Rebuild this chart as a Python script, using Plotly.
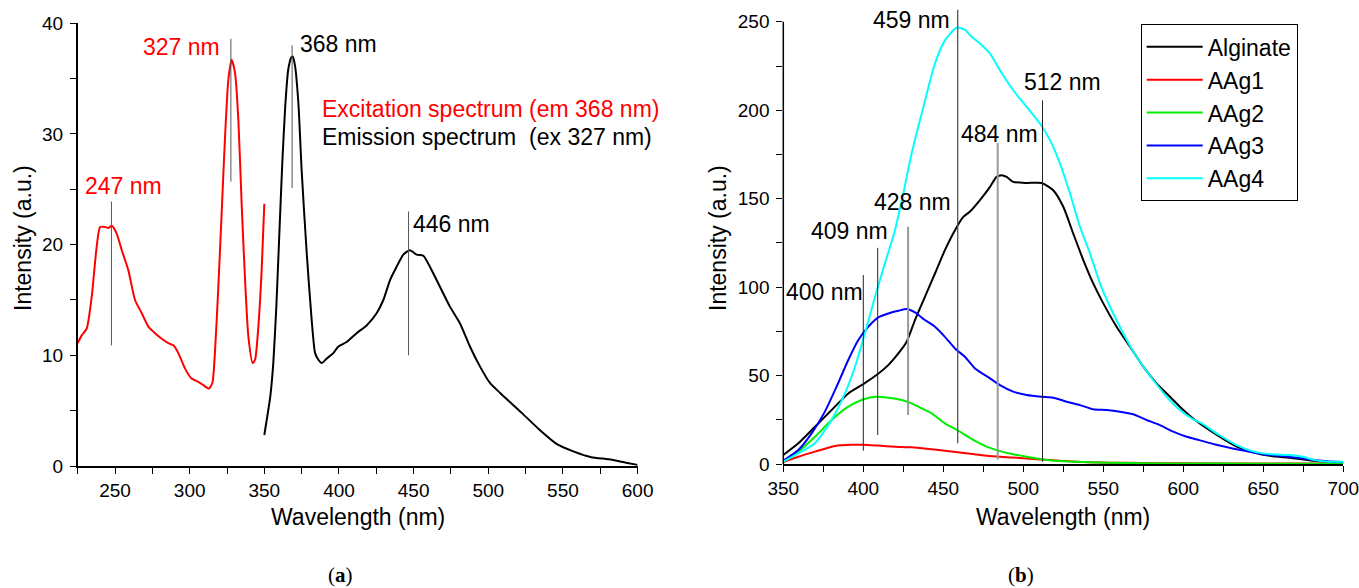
import plotly.graph_objects as go

# ---------------- Panel (a) data ----------------
ex_nm = [225, 227.7, 231, 234.4, 237.7, 240, 243.3, 245.5, 247.8, 251.1, 254.5, 258.9, 263.4,
         267.9, 272.3, 276.8, 281.3, 285.7, 289.1, 292.4, 296.9, 301.3, 305.8, 309.2, 312.9,
         315.2, 316.9, 319.2, 321.4, 323.7, 325.9, 328.1, 330.4, 332.6, 334.8, 337.1, 339.3,
         342.2, 343.8, 346.0, 348.2, 350]
ex_val = [11.1, 11.8, 12.4, 15.3, 19.8, 21.6, 21.6, 21.5, 21.7, 21.0, 19.5, 17.7, 15.0,
          13.8, 12.6, 12.0, 11.5, 11.1, 10.9, 10.2, 8.8, 7.9, 7.6, 7.3, 7.0,
          7.5, 10.2, 16.2, 22.8, 29.8, 34.9, 36.7, 35.5, 31.3, 23.7, 16.8, 11.7,
          9.3, 9.6, 12.6, 17.7, 23.7]

em_nm = [350, 352, 354, 356, 358, 360, 362, 364, 366, 368, 369, 370.5, 372.8, 375, 378.4,
         381.7, 384, 386.2, 388.4, 391.7, 396.2, 399.6, 405.1, 411.8, 418.5, 425.2, 429.7,
         434.2, 438.6, 443.1, 447.5, 452, 456.5, 460.9, 467.6, 474.3, 481, 487.7, 494.4,
         501.1, 507.9, 522.4, 534.1, 545.7, 557.4, 569, 580.7, 592.2, 600]
em_val = [2.8, 4.5, 6.3, 9.3, 14.3, 20.8, 27.3, 32.5, 35.8, 36.9, 37.0, 36.2, 32.8, 26.7, 19.2,
          13.2, 10.2, 9.6, 9.3, 9.7, 10.2, 10.8, 11.2, 12.0, 12.7, 13.8, 15.0,
          16.8, 18.0, 19.1, 19.5, 19.1, 19.0, 18.0, 16.2, 14.4, 12.9, 10.8, 9.0,
          7.5, 6.6, 4.8, 3.3, 2.0, 1.3, 0.8, 0.6, 0.3, 0.1]

peaks_a = [247, 327, 368, 446]
peaks_a_low = [10.9, 25.7, 25.1, 10.0]
peaks_a_high = [23.9, 38.6, 38.0, 23.0]
peaks_a_labels = ["247 nm", "327 nm", "368 nm", "446 nm"]

# ---------------- Panel (b) data ----------------
alg_nm = [350, 359.4, 369.8, 380.2, 390.6, 400, 408.3, 415.6, 421.9, 427.1, 432.3, 438.5, 444.8,
          451, 457.3, 462.5, 466.7, 472.9, 479.2, 483.3, 486.4, 489.6, 493.7, 502.1, 511.4,
          518.7, 525, 531.2, 537.5, 543.7, 550, 558.3, 566.7, 575, 583.3, 591.7, 600, 607.3,
          620, 633, 644, 655, 666, 680, 690, 700]
alg_val = [5.1, 11.7, 21.1, 30.5, 39.9, 45.2, 50.3, 55.9, 62.5, 69.1, 81.4, 94.5, 107.7,
           120.9, 132.2, 139.7, 142.7, 149.2, 156.7, 162.3, 163.3, 162.3, 159.5, 158.9, 158.9,
           154.8, 145.4, 130.3, 115.3, 102.1, 90.8, 77.6, 66.3, 55.0, 45.6, 38.0, 30.5, 24.9,
           17, 10, 6.5, 4.5, 3.5, 2, 1, 0.8]

aag1_nm = [350, 359.4, 369.8, 382.3, 392.7, 400, 409.4, 419.8, 430.2, 440.6, 451, 461.5, 472.9,
           485.4, 497.9, 510.4, 522.9, 537.5, 554.2, 575, 600, 650, 700]
aag1_val = [1.1, 4.1, 7.0, 10.2, 10.9, 10.9, 10.4, 9.8, 9.4, 8.5, 7.5, 6.4, 5.1,
            4.1, 3.4, 2.6, 1.9, 1.1, 0.75, 0.6, 0.4, 0.3, 0.3]

aag2_nm = [350, 359.4, 369.8, 380.2, 390.6, 399, 407.3, 415.6, 424, 430.2, 436.5, 442.7, 451,
           459.4, 468.7, 477.1, 485.4, 493.7, 502.1, 512.5, 522.9, 537.5, 554.2, 575, 600, 650, 700]
aag2_val = [1.3, 7.0, 15.4, 24.9, 32.4, 36.2, 38.0, 37.5, 36.2, 34.3, 31.4, 28.6, 23,
            18.8, 13.6, 9.8, 7.3, 5.5, 4.1, 2.6, 1.7, 1.1, 0.75, 0.4, 0.3, 0.2, 0.2]

aag3_nm = [350, 359.4, 367.7, 376, 383.3, 390.6, 396.9, 403.1, 409.4, 415.6, 421.9, 427.1, 432.3,
           438.5, 444.8, 451, 457.3, 463.5, 469.8, 479.2, 485.4, 493.7, 502.1, 511.4, 518.7,
           527.1, 535.4, 543.7, 552.1, 560.4, 568.7, 577.1, 585.4, 593.7, 602.1, 610, 620, 635,
           650, 665, 680, 690, 700]
aag3_val = [1.9, 7.9, 17.3, 29.6, 43.7, 58.8, 70.1, 77.6, 82.9, 85.1, 86.6, 87.6, 85.7,
            81.4, 77.6, 71.9, 65.3, 60.6, 54, 48.4, 44.6, 40.9, 39.0, 38.0, 37.5,
            35.2, 33.3, 30.9, 30.5, 29.6, 28.1, 24.9, 22.0, 18.3, 15.4, 13.5, 11, 8,
            5.5, 4.2, 2.5, 1.5, 1.0]

aag4_nm = [350, 359.4, 369.8, 380.2, 388.5, 394.8, 401, 407.3, 413.5, 419.8, 425, 430.2, 436.5,
           444.8, 451, 457.3, 459, 463.5, 466.7, 472.9, 479.2, 485.4, 493.7, 502.1, 510.4,
           516.7, 522.9, 529.2, 535.4, 541.7, 547.9, 554.2, 562.5, 570.8, 581.2, 589.6, 597.9,
           606.2, 611.5, 622.4, 633.3, 644.1, 655, 665.9, 674, 682.2, 690.3, 700]
aag4_val = [1.3, 6.0, 11.7, 24.9, 39.9, 55.0, 73.8, 94.5, 113.4, 132.2, 152.9, 175.5, 198.1,
            226.4, 239.5, 246.1, 246.7, 245.6, 242.4, 237.7, 232, 222.6, 211.3, 201.9, 192.5,
            183.1, 169.9, 152.9, 134.1, 119, 102.1, 88.9, 73.8, 60.6, 47.5, 38.0, 30.5,
            25.2, 23, 16.4, 10.7, 7.0, 5.5, 5.1, 4.2, 2.2, 1.3, 1.3]

series_b = ["Alginate", "AAg1", "AAg2", "AAg3", "AAg4"]

peaks_b = [400, 409, 428, 459, 484, 512]
peaks_b_low = [7.5, 16.4, 27.7, 11.7, 2.6, 1.3]
peaks_b_high = [106.8, 122.2, 134.1, 257, 181.5, 205.6]
peaks_b_labels = ["400 nm", "409 nm", "428 nm", "459 nm", "484 nm", "512 nm"]

# ---------------- Figure ----------------
FONT = "Arial, Liberation Sans, sans-serif"
W, H = 1359, 588
fig = go.Figure()

fig.add_trace(go.Scatter(x=ex_nm, y=ex_val, mode="lines",
                         line=dict(color="#ff0000", width=2, shape="spline", smoothing=0.6),
                         xaxis="x", yaxis="y", showlegend=False))
fig.add_trace(go.Scatter(x=em_nm, y=em_val, mode="lines",
                         line=dict(color="#000000", width=2, shape="spline", smoothing=0.6),
                         xaxis="x", yaxis="y", showlegend=False))

colors_b = ["#000000", "#ff0000", "#00ee00", "#0000ff", "#00ffff"]
xs_b = [alg_nm, aag1_nm, aag2_nm, aag3_nm, aag4_nm]
ys_b = [alg_val, aag1_val, aag2_val, aag3_val, aag4_val]
for name, xs, ys, c in zip(series_b, xs_b, ys_b, colors_b):
    fig.add_trace(go.Scatter(x=xs, y=ys, mode="lines", name=name,
                             line=dict(color=c, width=2, shape="spline", smoothing=0.6),
                             xaxis="x2", yaxis="y2"))

shapes = []
for px_, lo, hi in zip(peaks_a, peaks_a_low, peaks_a_high):
    shapes.append(dict(type="line", xref="x", yref="y", x0=px_ + 0.6, x1=px_ + 0.6, y0=lo, y1=hi,
                       line=dict(color="#555555", width=1)))
line_styles_b = [("#222222", 1), ("#222222", 1), ("#999999", 2), ("#555555", 1.3),
                 ("#999999", 2), ("#222222", 1)]
for px_, lo, hi, (lc, lw) in zip(peaks_b, peaks_b_low, peaks_b_high, line_styles_b):
    shapes.append(dict(type="line", xref="x2", yref="y2", x0=px_, x1=px_, y0=lo, y1=hi,
                       line=dict(color=lc, width=lw)))

xa_dom = [77.7 / W, 637.6 / W]
ya_dom = [1 - 466 / H, 1 - 23.3 / H]
xb_dom = [783.3 / W, 1343.3 / W]
yb_dom = [1 - 464 / H, 1 - 9.4 / H]
YB_MAX = 257
shapes.append(dict(type="line", xref="paper", yref="paper", x0=xb_dom[0], x1=xb_dom[0],
                   y0=yb_dom[0], y1=yb_dom[0] + (yb_dom[1] - yb_dom[0]) * 250 / YB_MAX,
                   line=dict(color="black", width=1.5)))

ann = []
lab_font = dict(family=FONT, size=23, color="black")
red_font = dict(family=FONT, size=23, color="#ff0000")
ann.append(dict(x=228.5, y=25.3, xref="x", yref="y", text="247 nm", showarrow=False,
                xanchor="left", yanchor="middle", font=red_font))
ann.append(dict(x=321.5, y=37.9, xref="x", yref="y", text="327 nm", showarrow=False,
                xanchor="right", yanchor="middle", font=red_font))
ann.append(dict(x=372.5, y=38.1, xref="x", yref="y", text="368 nm", showarrow=False,
                xanchor="left", yanchor="middle", font=lab_font))
ann.append(dict(x=448, y=21.9, xref="x", yref="y", text="446 nm", showarrow=False,
                xanchor="left", yanchor="middle", font=lab_font))
ann.append(dict(x=387.5, y=32.3, xref="x", yref="y", text="Excitation spectrum (em 368 nm)",
                showarrow=False, xanchor="left", yanchor="middle", font=red_font))
ann.append(dict(x=387.5, y=29.7, xref="x", yref="y", text="Emission spectrum  (ex 327 nm)",
                showarrow=False, xanchor="left", yanchor="middle", font=lab_font))
b_lab_pos = [(350.3, 97.4, "left"), (366.3, 131.6, "left"), (405.2, 148.2, "left"),
             (455.5, 250.8, "right"), (459.8, 186.3, "left"), (499.4, 216, "left")]
for (xx, yy, anc), t in zip(b_lab_pos, peaks_b_labels):
    ann.append(dict(x=xx, y=yy, xref="x2", yref="y2", text=t, showarrow=False,
                    xanchor=anc, yanchor="middle", font=lab_font))

ann.append(dict(x=357.7 / W, y=1 - 517 / H, xref="paper", yref="paper", text="Wavelength (nm)",
                showarrow=False, xanchor="center", yanchor="middle", font=lab_font))
ann.append(dict(x=1063.3 / W, y=1 - 517 / H, xref="paper", yref="paper", text="Wavelength (nm)",
                showarrow=False, xanchor="center", yanchor="middle", font=lab_font))
ann.append(dict(x=23 / W, y=1 - 238 / H, xref="paper", yref="paper", text="Intensity (a.u.)",
                showarrow=False, textangle=-90, xanchor="center", yanchor="middle", font=lab_font))
ann.append(dict(x=718 / W, y=1 - 238 / H, xref="paper", yref="paper", text="Intensity (a.u.)",
                showarrow=False, textangle=-90, xanchor="center", yanchor="middle", font=lab_font))
cap_font = dict(family="Liberation Serif, Times New Roman, serif", size=21, color="black")
ann.append(dict(x=340 / W, y=1 - 575 / H, xref="paper", yref="paper", text="(<b>a</b>)",
                showarrow=False, xanchor="center", yanchor="middle", font=cap_font))
ann.append(dict(x=1021 / W, y=1 - 575 / H, xref="paper", yref="paper", text="(<b>b</b>)",
                showarrow=False, xanchor="center", yanchor="middle", font=cap_font))

tick_font = dict(family=FONT, size=19, color="black")
base_axis = dict(showgrid=False, zeroline=False, ticks="outside", ticklen=6, tickwidth=1.3,
                 tickcolor="black", tickfont=tick_font, linecolor="black", linewidth=1.5,
                 automargin=False, ticklabeloverflow="allow")
minor_base = dict(ticks="outside", ticklen=6, tickwidth=1.3, tickcolor="black", showgrid=False)

fig.update_layout(
    width=W, height=H, margin=dict(l=0, r=0, t=0, b=0, autoexpand=False),
    paper_bgcolor="white", plot_bgcolor="white",
    font=dict(family=FONT, color="black"),
    xaxis=dict(domain=xa_dom, range=[225, 600], dtick=50, tick0=0, showline=True,
               anchor="y", **base_axis, minor=dict(minor_base, dtick=25, tick0=0)),
    yaxis=dict(domain=ya_dom, range=[0, 40], dtick=10, tick0=0, showline=True, anchor="x",
               ticklabelstandoff=3, **base_axis, minor=dict(minor_base, dtick=5, tick0=0)),
    xaxis2=dict(domain=xb_dom, range=[350, 700], dtick=50, tick0=0, showline=True,
                anchor="y2", **base_axis, minor=dict(minor_base, dtick=25, tick0=0)),
    yaxis2=dict(domain=yb_dom, range=[0, YB_MAX], tickvals=[0, 50, 100, 150, 200, 250],
                showline=False, anchor="x2", ticklabelstandoff=3, **base_axis,
                minor=dict(minor_base, tickvals=[25, 75, 125, 175, 225])),
    showlegend=True,
    legend=dict(x=1140.7 / W, y=1 - 24.3 / H, xanchor="left", yanchor="top",
                bordercolor="black", borderwidth=1, bgcolor="white",
                font=dict(family=FONT, size=23, color="black"),
                itemwidth=56, tracegroupgap=0),
    shapes=shapes, annotations=ann,
)

fig.write_html("out.html", post_script="document.body.style.margin='0';")
